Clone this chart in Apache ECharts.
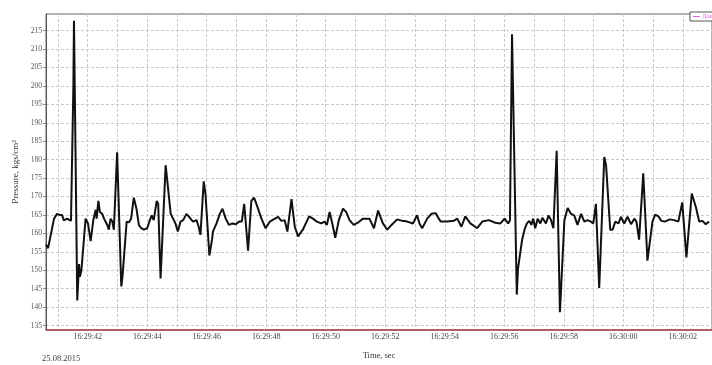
<!DOCTYPE html>
<html>
<head>
<meta charset="utf-8">
<script src="https://cdn.jsdelivr.net/npm/echarts@6/dist/echarts.min.js"></script>
<style>
  html, body { margin: 0; padding: 0; background: #fff; }
  #chart { width: 712px; height: 365px; }
</style>
</head>
<body>
<div id="chart"></div>
<script>
// seconds after 16:29:00
var timeSec = [
  40.60, 40.67, 40.77, 40.87, 40.97, 41.07, 41.14, 41.20, 41.31, 41.37, 41.44, 41.52, 41.54,
  41.65, 41.71, 41.74, 41.79, 41.93, 42.01, 42.10, 42.19, 42.27, 42.30, 42.36, 42.41, 42.49,
  42.55, 42.60, 42.66, 42.71, 42.77, 42.83, 42.88, 42.99, 43.13, 43.17, 43.31, 43.39, 43.46,
  43.55, 43.64, 43.72, 43.80, 43.89, 44.00, 44.09, 44.15, 44.22, 44.32, 44.37, 44.45, 44.62,
  44.70, 44.79, 44.87, 44.95, 45.03, 45.12, 45.21, 45.32, 45.43, 45.54, 45.66, 45.73, 45.79,
  45.90, 45.96, 46.09, 46.18, 46.21, 46.33, 46.44, 46.53, 46.64, 46.75, 46.87, 46.98, 47.09,
  47.18, 47.26, 47.39, 47.50, 47.59, 47.67, 47.84, 47.98, 48.12, 48.25, 48.40, 48.51, 48.62,
  48.71, 48.85, 48.96, 49.07, 49.23, 49.44, 49.57, 49.70, 49.85, 49.96, 50.04, 50.13, 50.22,
  50.32, 50.44, 50.58, 50.69, 50.80, 50.94, 51.08, 51.25, 51.47, 51.62, 51.76, 51.92, 52.07,
  52.21, 52.40, 52.57, 52.74, 52.93, 53.07, 53.15, 53.24, 53.41, 53.55, 53.69, 53.86, 54.08,
  54.30, 54.42, 54.56, 54.69, 54.86, 55.09, 55.26, 55.48, 55.70, 55.87, 56.01, 56.13, 56.19,
  56.26, 56.42, 56.46, 56.52, 56.60, 56.68, 56.76, 56.84, 56.91, 56.97, 57.04, 57.12, 57.21,
  57.28, 57.40, 57.49, 57.57, 57.65, 57.76, 57.87, 58.02, 58.13, 58.24, 58.35, 58.46, 58.58,
  58.69, 58.80, 58.91, 58.99, 59.08, 59.19, 59.36, 59.42, 59.56, 59.64, 59.73, 59.84, 59.92,
  60.03, 60.14, 60.26, 60.37, 60.44, 60.53, 60.67, 60.81, 60.98, 61.07, 61.18, 61.28, 61.39,
  61.56, 61.71, 61.85, 61.98, 62.12, 62.30, 62.44, 62.55, 62.66, 62.77, 62.88
];
var pressure = [
  157.0, 156.0, 160.0, 164.0, 165.3, 165.0, 165.0, 163.5, 164.0, 164.3, 163.4, 200.0, 217.7,
  141.8, 151.7, 148.2, 150.0, 164.0, 162.7, 157.9, 163.6, 166.4, 164.0, 168.8, 165.8, 165.3,
  164.0, 163.2, 162.3, 161.0, 164.0, 163.2, 161.0, 182.0, 145.6, 148.2, 163.2, 163.0, 164.0,
  169.7, 166.7, 162.3, 161.4, 161.0, 161.4, 163.6, 164.9, 163.6, 168.8, 168.0, 147.8, 178.5,
  172.4, 165.3, 164.0, 162.7, 160.5, 163.2, 163.6, 165.3, 164.3, 163.2, 163.6, 161.8, 159.6,
  174.1, 170.6, 154.0, 158.3, 160.5, 162.7, 165.3, 166.7, 164.0, 162.3, 162.7, 162.5, 163.2,
  163.2, 168.0, 155.3, 168.8, 169.7, 168.0, 164.0, 161.4, 163.2, 163.8, 164.5, 163.4, 163.6,
  160.5, 169.3, 161.8, 159.2, 161.0, 164.6, 164.0, 163.2, 162.7, 163.2, 162.3, 165.8, 162.7,
  158.8, 163.6, 166.7, 165.8, 163.6, 162.3, 162.9, 164.0, 164.0, 161.4, 166.2, 162.7, 161.0,
  162.3, 163.8, 163.4, 163.2, 162.7, 164.9, 162.7, 161.4, 164.0, 165.3, 165.5, 163.2, 163.2,
  163.4, 164.0, 161.8, 164.6, 162.7, 161.4, 163.2, 163.6, 162.9, 162.7, 164.0, 162.7, 163.5,
  214.0, 143.4, 150.4, 150.0, 158.3, 161.0, 162.7, 163.4, 162.3, 164.0, 161.4, 164.0, 162.7,
  164.2, 162.7, 164.9, 163.6, 161.4, 182.4, 138.6, 163.6, 166.9, 165.3, 164.9, 162.3, 165.3,
  163.2, 163.6, 163.2, 162.7, 168.0, 145.2, 180.7, 178.5, 161.0, 161.0, 163.2, 162.7, 164.5,
  162.7, 164.5, 162.5, 164.0, 163.2, 158.3, 176.3, 152.6, 163.2, 165.1, 164.6, 163.4, 163.2,
  163.8, 163.6, 163.2, 168.4, 153.5, 170.8, 167.1, 163.2, 163.4, 162.5, 163.2
];

var yTicks = [135, 140, 145, 150, 155, 160, 165, 170, 175, 180, 185, 190, 195, 200, 205, 210, 215];
var xGridSec = [41, 42, 43, 44, 45, 46, 47, 48, 49, 50, 51, 52, 53, 54, 55, 56, 57, 58, 59, 60, 61, 62];
var xLabelSec = [42, 44, 46, 48, 50, 52, 54, 56, 58, 60, 62];
var dateText = '25.08.2015';
var legendName = 'Давление';

var FONT = '"Liberation Serif", "DejaVu Serif", serif';

function fmtTime(v) {
  var total = 16 * 3600 + 29 * 60 + Math.round(v);
  var h = Math.floor(total / 3600);
  var m = Math.floor((total % 3600) / 60);
  var s = total % 60;
  var pad = function(n) { return (n < 10 ? '0' : '') + n; };
  return h + ':' + pad(m) + ':' + pad(s);
}

var points = timeSec.map(function(t, i) { return [t, pressure[i]]; });

var chart = echarts.init(document.getElementById('chart'), null, { renderer: 'canvas' });

chart.setOption({
  animation: false,
  grid: {
    left: 46, top: 14, right: -1, bottom: 25,
    show: true, borderColor: '#666', borderWidth: 1, backgroundColor: '#fff'
  },
  legend: {
    data: [legendName],
    left: 690, top: 12,
    orient: 'horizontal',
    backgroundColor: '#fff',
    borderColor: '#555', borderWidth: 1,
    padding: [1, 3],
    itemWidth: 7, itemHeight: 1, itemGap: 2,
    icon: 'rect',
    textStyle: { fontSize: 7, color: '#e060e0', fontFamily: FONT, padding: [0, 0, 0, -3] }
  },
  xAxis: {
    type: 'value',
    min: 40.60, max: 62.98,
    name: 'Time, sec',
    nameLocation: 'middle',
    nameGap: 21,
    nameTextStyle: { fontSize: 8.5, color: '#333', fontFamily: FONT },
    axisLine: { show: true, onZero: false, lineStyle: { color: '#b04848', width: 1.5 } },
    axisTick: { show: false, customValues: xGridSec },
    axisLabel: {
      customValues: xLabelSec,
      formatter: fmtTime,
      fontSize: 8, color: '#444', fontFamily: FONT, margin: 3
    },
    splitLine: { show: true, lineStyle: { color: '#cacaca', type: [3, 2], width: 1 } }
  },
  yAxis: {
    type: 'value',
    min: 133.8, max: 219.5,
    name: 'Pressure, kgs/cm²',
    nameLocation: 'middle',
    nameGap: 22,
    nameTextStyle: { fontSize: 9, color: '#333', fontFamily: FONT },
    axisLine: { show: true, lineStyle: { color: '#555', width: 1 } },
    axisTick: { show: true, customValues: yTicks, length: 3, lineStyle: { color: '#888' } },
    axisLabel: {
      customValues: yTicks,
      fontSize: 7.5, color: '#555', fontFamily: FONT, margin: 4
    },
    splitLine: { show: true, lineStyle: { color: '#cacaca', type: [3, 2], width: 1 } }
  },
  graphic: [{
    type: 'text',
    left: 42, top: 354,
    style: { text: dateText, fontSize: 8.5, fill: '#444', fontFamily: FONT }
  }],
  series: [{
    name: 'pressure',
    type: 'line',
    data: points,
    showSymbol: false,
    lineStyle: { color: '#111', width: 2 },
    itemStyle: { color: '#111' }
  }, {
    name: legendName,
    type: 'line',
    data: [],
    showSymbol: false,
    lineStyle: { color: '#e060e0', width: 1 },
    itemStyle: { color: '#e060e0' }
  }]
});
</script>
</body>
</html>
